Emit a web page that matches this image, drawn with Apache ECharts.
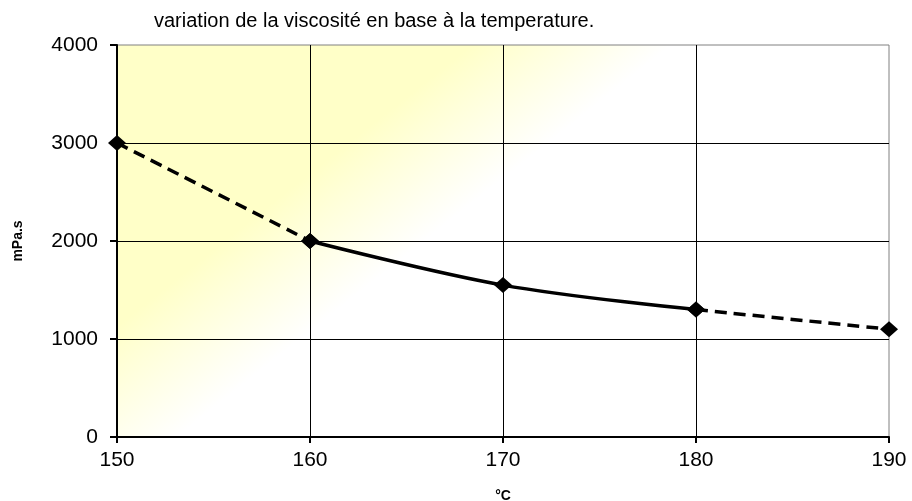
<!DOCTYPE html>
<html lang="fr">
<head>
    <meta charset="UTF-8">
    <title>Viscosité</title>
    <script src="https://cdn.jsdelivr.net/npm/echarts@6/dist/echarts.min.js"></script>
    <style>
        body { margin: 0; background: #fff; }
        #chart { width: 912px; height: 501px; }
    </style>
</head>
<body>
    <div id="chart"></div>
    <script>
        const temps = [150, 160, 170, 180, 190]
        const viscosity = [3000, 2000, 1550, 1300, 1100]
        const yTicks = [0, 1000, 2000, 3000, 4000]

        const pairs = temps.map((t, i) => [t, viscosity[i]])
        // dashed extrapolation at both ends, solid in the middle
        const segLeft = pairs.slice(0, 2)
        const segMid = pairs.slice(1, 4)
        const segRight = pairs.slice(3, 5)

        const font = "Liberation Sans, Arial, sans-serif"
        const gridLeft = 117, gridTop = 45

        function lineSeries(data, type) {
            return {
                type: "line",
                data: data,
                smooth: 0.35,
                symbol: "diamond",
                symbolSize: [18, 16],
                itemStyle: { color: "#000" },
                lineStyle: { color: "#000", width: 3.5, type: type },
                z: type === "solid" ? 3 : 2,
                animation: false
            }
        }

        const chart = echarts.init(document.getElementById("chart"))
        chart.setOption({
            animation: false,
            title: {
                text: "variation de la viscosité en base à la temperature.",
                left: 149,
                top: 6,
                textStyle: { fontFamily: font, fontSize: 20, fontWeight: "normal", color: "#000" }
            },
            grid: {
                left: gridLeft,
                right: 23,
                top: gridTop,
                bottom: 64,
                outerBoundsMode: "none",
                containLabel: false,
                show: true,
                borderColor: "#808080",
                borderWidth: 1,
                backgroundColor: {
                    type: "linear",
                    x: gridLeft, y: gridTop,
                    x2: gridLeft + 285, y2: gridTop + 360,
                    global: true,
                    colorStops: [
                        { offset: 0, color: "#ffffc8" },
                        { offset: 0.48, color: "#ffffc8" },
                        { offset: 0.75, color: "#ffffff" },
                        { offset: 1, color: "#ffffff" }
                    ]
                }
            },
            xAxis: {
                type: "value",
                min: 150,
                max: 190,
                interval: 10,
                name: "°C",
                nameLocation: "middle",
                nameGap: 52,
                nameTextStyle: { fontFamily: font, fontSize: 14, fontWeight: "bold", color: "#000" },
                axisLine: { show: true, lineStyle: { color: "#000", width: 2 } },
                axisTick: { show: true, length: 6, lineStyle: { color: "#000", width: 2 } },
                axisLabel: { fontFamily: font, fontSize: 21, color: "#000", margin: 13 },
                splitLine: { show: true, showMinLine: false, showMaxLine: false, lineStyle: { color: "#000", width: 1 } }
            },
            yAxis: {
                type: "value",
                min: yTicks[0],
                max: yTicks[yTicks.length - 1],
                interval: 1000,
                name: "mPa.s",
                nameLocation: "middle",
                nameGap: 92,
                nameRotate: 90,
                nameTextStyle: { fontFamily: font, fontSize: 14, fontWeight: "bold", color: "#000" },
                axisLine: { show: true, lineStyle: { color: "#000", width: 2 } },
                axisTick: { show: true, length: 7, lineStyle: { color: "#000", width: 2 } },
                axisLabel: { fontFamily: font, fontSize: 21, color: "#000", margin: 19, formatter: v => String(v) },
                splitLine: { show: true, showMinLine: false, showMaxLine: false, lineStyle: { color: "#000", width: 1 } }
            },
            series: [
                lineSeries(segLeft, [12, 7]),
                lineSeries(segMid, "solid"),
                lineSeries(segRight, [12, 7])
            ]
        })
    </script>
</body>
</html>
